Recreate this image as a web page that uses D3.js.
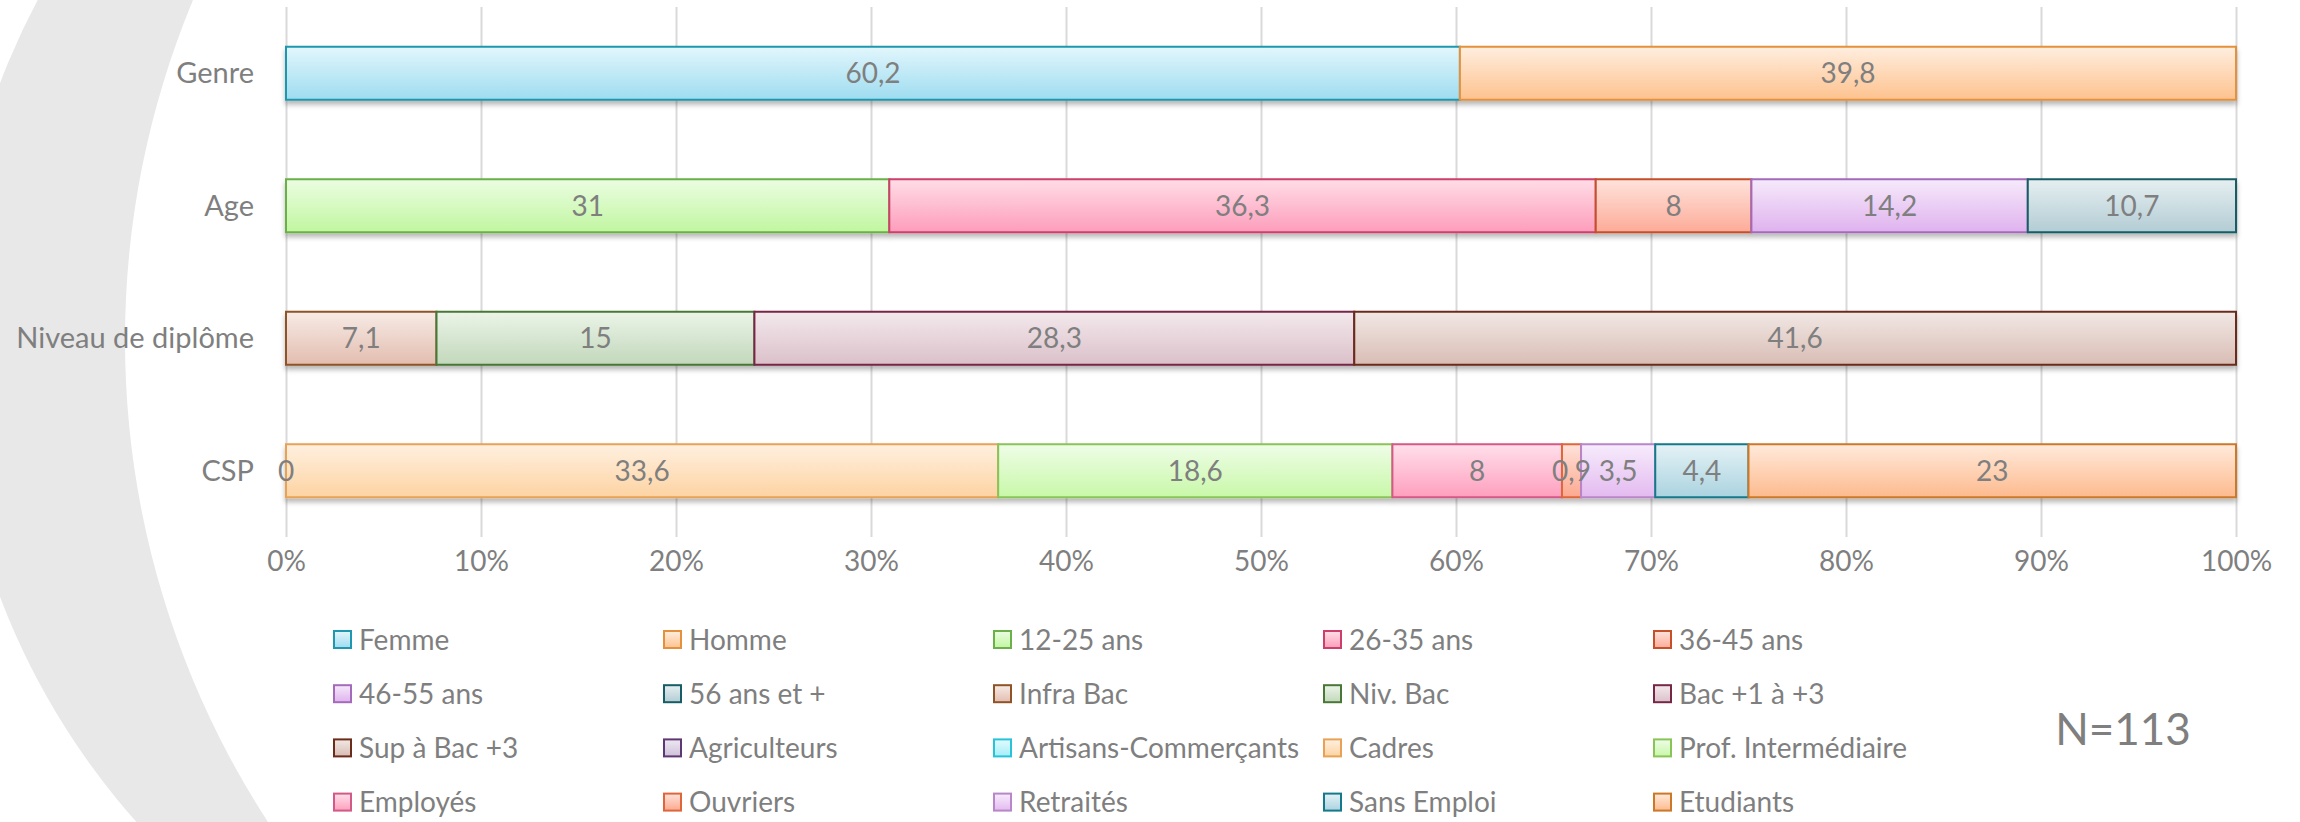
<!DOCTYPE html>
<html>
<head>
<meta charset="utf-8">
<script src="https://cdn.jsdelivr.net/npm/d3@7"></script>
<style>
  body { margin: 0; background: #fff; }
  svg text { font-family: Lato, "Open Sans", sans-serif; fill: #7f7f7f; }
</style>
</head>
<body>
<div class="chart-area"></div>
<script>
// rows of the chart, top to bottom
const categories = ["Genre", "Age", "Niveau de diplôme", "CSP"];

// series of each row (legend names), and their values
const genreSeries = ["Femme", "Homme"];
const genreValues = [60.2, 39.8];
const ageSeries = ["12-25 ans", "26-35 ans", "36-45 ans", "46-55 ans", "56 ans et +"];
const ageValues = [31, 36.3, 8, 14.2, 10.7];
const diplomeSeries = ["Infra Bac", "Niv. Bac", "Bac +1 à +3", "Sup à Bac +3"];
const diplomeValues = [7.1, 15, 28.3, 41.6];
const cspSeries = ["Agriculteurs", "Artisans-Commerçants", "Cadres", "Prof. Intermédiaire",
  "Employés", "Ouvriers", "Retraités", "Sans Emploi", "Etudiants"];
const cspValues = [0, null, 33.6, 18.6, 8, 0.9, 3.5, 4.4, 23];

const axisTicks = [0, 0.1, 0.2, 0.3, 0.4, 0.5, 0.6, 0.7, 0.8, 0.9, 1];
const sampleLabel = "N=113";

// colours: [top of gradient, bottom of gradient, border]
const seriesColors = {
  "Femme": ["#e2f6fc", "#9edcf0", "#1f97ae"],
  "Homme": ["#ffeedf", "#fdc28e", "#e3913c"],
  "12-25 ans": ["#ebfde2", "#c1f6a0", "#6bb04a"],
  "26-35 ans": ["#ffdde7", "#fd9dbb", "#cc3f6b"],
  "36-45 ans": ["#fee3dc", "#fdab98", "#c5502a"],
  "46-55 ans": ["#f6eafb", "#dfb2ee", "#a46bba"],
  "56 ans et +": ["#e6eff1", "#b3ccd4", "#175d66"],
  "Infra Bac": ["#f7ebe6", "#e2bdaf", "#8e5327"],
  "Niv. Bac": ["#ebf4e8", "#c2d8bb", "#497735"],
  "Bac +1 à +3": ["#f3e9ec", "#dbc0c9", "#772746"],
  "Sup à Bac +3": ["#f2e8e5", "#d8bdb4", "#6b2c1b"],
  "Agriculteurs": ["#eee8f2", "#cfc1d9", "#5e3872"],
  "Artisans-Commerçants": ["#e2fbfe", "#a5eef8", "#29c3d9"],
  "Cadres": ["#fff0e0", "#fdd3a2", "#e8a257"],
  "Prof. Intermédiaire": ["#effde8", "#c8f8a8", "#8ac459"],
  "Employés": ["#ffe0ea", "#fe9fbe", "#d35a86"],
  "Ouvriers": ["#fee2da", "#fca98f", "#df663b"],
  "Retraités": ["#f7ecfc", "#e3baf0", "#b886c9"],
  "Sans Emploi": ["#e4f2f6", "#abd3e0", "#14798a"],
  "Etudiants": ["#ffeadb", "#fdba8e", "#cb7829"]
};

const rows = [
  { cat: "Genre", names: genreSeries, values: genreValues },
  { cat: "Age", names: ageSeries, values: ageValues },
  { cat: "Niveau de diplôme", names: diplomeSeries, values: diplomeValues },
  { cat: "CSP", names: cspSeries, values: cspValues }
];

const width = 2300, height = 822;
const svg = d3.select(".chart-area").append("svg")
  .attr("width", width).attr("height", height)
  .attr("viewBox", [0, 0, width, height]);

const defs = svg.append("defs");
Object.keys(seriesColors).forEach((name, i) => {
  const c = seriesColors[name];
  const g = defs.append("linearGradient").attr("id", "grad" + i)
    .attr("x1", 0).attr("y1", 0).attr("x2", 0).attr("y2", 1);
  g.append("stop").attr("offset", "0%").attr("stop-color", c[0]);
  g.append("stop").attr("offset", "100%").attr("stop-color", c[1]);
});
const gradId = name => "url(#grad" + Object.keys(seriesColors).indexOf(name) + ")";

const shadow = defs.append("filter").attr("id", "shadow")
  .attr("x", "-2%").attr("y", "-20%").attr("width", "104%").attr("height", "150%");
shadow.append("feDropShadow").attr("dx", 0).attr("dy", 4).attr("stdDeviation", 2.5)
  .attr("flood-color", "#000").attr("flood-opacity", 0.28);

// grey crescent in the background
svg.append("circle").attr("cx", 678).attr("cy", 340).attr("r", 725).attr("fill", "#e7e8e7");
svg.append("circle").attr("cx", 1009).attr("cy", 340).attr("r", 884).attr("fill", "#fff");

const x = d3.scaleLinear().domain([0, 1]).range([286, 2236]);
const y = d3.scaleBand().domain(categories).range([7, 537]).paddingInner(0.6).paddingOuter(0.3);

// gridlines
svg.append("g")
  .attr("transform", "translate(0,537)")
  .call(d3.axisBottom(x).tickValues(axisTicks).tickSize(-530).tickFormat(""))
  .call(g => g.select(".domain").remove())
  .call(g => g.selectAll(".tick line").attr("stroke", "#d9d9d9").attr("stroke-width", 2));

// tick labels
svg.append("g")
  .attr("transform", "translate(0,537)")
  .call(d3.axisBottom(x).tickValues(axisTicks).tickSize(0).tickPadding(14).tickFormat(d3.format(".0%")))
  .call(g => g.select(".domain").remove())
  .call(g => g.selectAll("text").attr("font-size", 28).attr("fill", "#7f7f7f")
    .style("font-family", "Lato, 'Open Sans', sans-serif"));

// category labels
svg.append("g").selectAll("text")
  .data(categories)
  .join("text")
  .attr("x", 254)
  .attr("y", d => y(d) + y.bandwidth() / 2)
  .attr("dy", "0.35em")
  .attr("text-anchor", "end")
  .attr("font-size", 29)
  .text(d => d);

// stacked segments, normalised to 100%
const segments = [];
rows.forEach(r => {
  const total = d3.sum(r.values, v => v || 0);
  let acc = 0;
  r.names.forEach((n, i) => {
    const v = r.values[i];
    const x0 = acc / total;
    acc += v || 0;
    segments.push({ cat: r.cat, name: n, value: v, x0: x0, x1: acc / total });
  });
});

const bars = svg.append("g").attr("filter", "url(#shadow)");
bars.selectAll("rect")
  .data(segments.filter(d => d.value))
  .join("rect")
  .attr("x", d => x(d.x0))
  .attr("y", d => y(d.cat))
  .attr("width", d => x(d.x1) - x(d.x0))
  .attr("height", y.bandwidth())
  .attr("fill", d => gradId(d.name))
  .attr("stroke", d => seriesColors[d.name][2])
  .attr("stroke-width", 2);

const fmt = v => String(v).replace(".", ",");
svg.append("g").selectAll("text")
  .data(segments.filter(d => d.value !== null))
  .join("text")
  .attr("x", d => (x(d.x0) + x(d.x1)) / 2)
  .attr("y", d => y(d.cat) + y.bandwidth() / 2)
  .attr("dy", "0.35em")
  .attr("text-anchor", "middle")
  .attr("font-size", 28)
  .text(d => fmt(d.value));

// legend, 5 columns
const legendNames = [].concat(genreSeries, ageSeries, diplomeSeries, cspSeries);
const legend = svg.append("g").selectAll("g")
  .data(legendNames)
  .join("g")
  .attr("transform", (d, i) => `translate(${333 + (i % 5) * 330},${640 + Math.floor(i / 5) * 54.2})`);
legend.append("rect")
  .attr("x", 1).attr("y", -9)
  .attr("width", 17).attr("height", 17)
  .attr("fill", d => gradId(d))
  .attr("stroke", d => seriesColors[d][2])
  .attr("stroke-width", 2);
legend.append("text")
  .attr("x", 26).attr("y", 0).attr("dy", "0.35em")
  .attr("font-size", 28)
  .text(d => d);

svg.append("text")
  .attr("x", 2123).attr("y", 730).attr("dy", "0.35em")
  .attr("text-anchor", "middle")
  .attr("font-size", 44)
  .text(sampleLabel);
</script>
</body>
</html>
